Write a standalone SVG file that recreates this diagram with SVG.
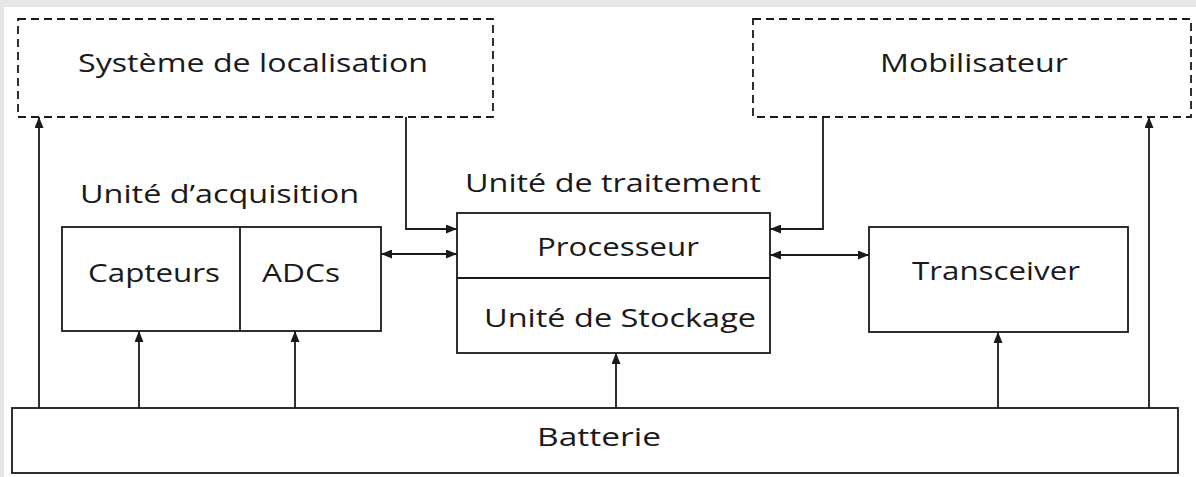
<svg xmlns="http://www.w3.org/2000/svg" width="1196" height="477" viewBox="0 0 1196 477">
<defs>
<marker id="ah" viewBox="0 0 11 9" refX="11" refY="4.5" markerWidth="11" markerHeight="9" markerUnits="userSpaceOnUse" orient="auto-start-reverse">
<path d="M0,0 L11,4.5 L0,9 z" fill="#1a1a1a"/>
</marker>
</defs>
<style>
.box{fill:#fff;stroke:#1a1a1a;stroke-width:1.8}
.dash{fill:#fff;stroke:#1a1a1a;stroke-width:1.8;stroke-dasharray:8 5}
.ln{fill:none;stroke:#1a1a1a;stroke-width:1.8}
text{font-family:"Open Sans","DejaVu Sans",sans-serif;font-size:26px;fill:#1a1a1a}
</style>
<rect x="0" y="0" width="1196" height="477" fill="#fff"/>
<rect x="0" y="0" width="1196" height="7" fill="#e6e6e6"/>
<rect x="0" y="0" width="4" height="477" fill="#e6e6e6"/>

<g id="localisation">
<rect class="dash" x="18" y="19" width="475" height="98"/>
<text x="78" y="72" textLength="350" lengthAdjust="spacingAndGlyphs">Système de localisation</text>
</g>
<g id="mobilisateur">
<rect class="dash" x="753" y="19" width="438" height="98"/>
<text x="880" y="72" textLength="188" lengthAdjust="spacingAndGlyphs">Mobilisateur</text>
</g>
<g id="acquisition">
<text x="80" y="203" textLength="279" lengthAdjust="spacingAndGlyphs">Unité d’acquisition</text>
<rect class="box" x="62" y="227" width="319" height="104"/>
<line class="ln" x1="240" y1="227" x2="240" y2="331"/>
<text x="88" y="282" textLength="132" lengthAdjust="spacingAndGlyphs">Capteurs</text>
<text x="262" y="282" textLength="78" lengthAdjust="spacingAndGlyphs">ADCs</text>
</g>
<g id="traitement">
<text x="465" y="192" textLength="296" lengthAdjust="spacingAndGlyphs">Unité de traitement</text>
<rect class="box" x="457" y="213" width="313" height="140"/>
<line class="ln" x1="457" y1="278" x2="770" y2="278"/>
<text x="537" y="256" textLength="162" lengthAdjust="spacingAndGlyphs">Processeur</text>
<text x="484" y="327" textLength="272" lengthAdjust="spacingAndGlyphs">Unité de Stockage</text>
</g>
<g id="transceiver">
<rect class="box" x="869" y="227" width="259" height="105"/>
<text x="912" y="280" textLength="168" lengthAdjust="spacingAndGlyphs">Transceiver</text>
</g>
<g id="batterie">
<rect class="box" x="12" y="408" width="1166" height="65"/>
<text x="537" y="446" textLength="124" lengthAdjust="spacingAndGlyphs">Batterie</text>
</g>

<g id="connectors">
<path class="ln" d="M39,408 V117" marker-end="url(#ah)"/>
<path class="ln" d="M406,117 V229 H457" marker-end="url(#ah)"/>
<path class="ln" d="M381,254 H457" marker-start="url(#ah)" marker-end="url(#ah)"/>
<path class="ln" d="M823,117 V229 H770" marker-end="url(#ah)"/>
<path class="ln" d="M770,255 H869" marker-start="url(#ah)" marker-end="url(#ah)"/>
<path class="ln" d="M139,408 V331" marker-end="url(#ah)"/>
<path class="ln" d="M295,408 V331" marker-end="url(#ah)"/>
<path class="ln" d="M616,408 V353" marker-end="url(#ah)"/>
<path class="ln" d="M998,408 V332" marker-end="url(#ah)"/>
<path class="ln" d="M1149,408 V117" marker-end="url(#ah)"/>
</g>
</svg>
